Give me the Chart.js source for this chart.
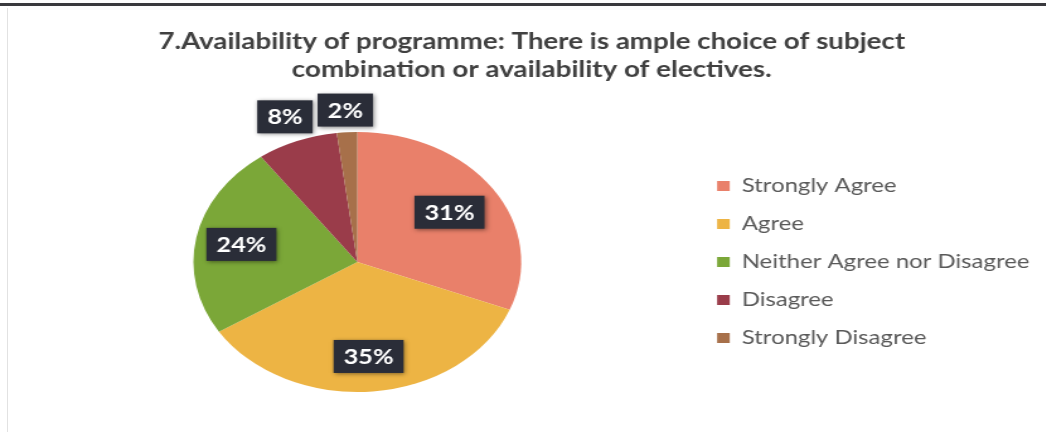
<!DOCTYPE html>
<html>
<head>
<meta charset="utf-8">
<script src="https://cdn.jsdelivr.net/npm/chart.js@4/dist/chart.umd.min.js"></script>
<style>
  html, body { margin: 0; padding: 0; background: #fff; overflow: hidden; }
  #page { position: relative; width: 1046px; height: 432px; background: #fff; }
  #topline { position: absolute; left: 0; top: 3px; width: 1046px; height: 3px; background: #3a3a3e; }
  #leftline { position: absolute; left: 7px; top: 8px; width: 1px; height: 424px; background: #e2e2e2; }
  #wrap { position: absolute; left: 0; top: 0; width: 830px; height: 432px; transform: scaleX(1.26); transform-origin: 0 0; }
</style>
</head>
<body>
<div id="page">
  <div id="topline"></div>
  <div id="leftline"></div>
  <div id="wrap"><canvas id="c" width="830" height="432"></canvas></div>
</div>
<script>
const titleLines = ["7.Availability of programme: There is ample choice of subject", "combination or availability of electives."];
const categories = ["Strongly Agree", "Agree", "Neither Agree nor Disagree", "Disagree", "Strongly Disagree"];
const percentages = [31, 35, 24, 8, 2];
const sliceColors = ["#E9806A", "#EDB444", "#7BA738", "#9A3C4A", "#A7704A"];
const labelRadiusFactors = [0.68, 0.73, 0.72, 1.2, 1.17];

const boxLabels = {
  id: 'boxLabels',
  afterDatasetsDraw(chart) {
    const ctx = chart.ctx;
    const meta = chart.getDatasetMeta(0);
    const data = chart.data.datasets[0].data;
    ctx.save();
    ctx.font = 'bold 20px Lato, "Liberation Sans", sans-serif';
    ctx.textAlign = 'center';
    ctx.textBaseline = 'middle';
    meta.data.forEach((arc, i) => {
      const p = arc.getProps(['x', 'y', 'startAngle', 'endAngle', 'outerRadius'], true);
      const mid = (p.startAngle + p.endAngle) / 2;
      const r = p.outerRadius * labelRadiusFactors[i];
      const cx = p.x + Math.cos(mid) * r;
      const cy = p.y + Math.sin(mid) * r;
      const txt = data[i] + '%';
      const w = ctx.measureText(txt).width + 16;
      const h = 33;
      ctx.shadowColor = 'rgba(0,0,0,0.45)';
      ctx.shadowBlur = 4;
      ctx.shadowOffsetX = 1;
      ctx.shadowOffsetY = 1;
      ctx.fillStyle = '#2A2D38';
      ctx.fillRect(cx - w / 2, cy - h / 2, w, h);
      ctx.shadowColor = 'transparent';
      ctx.fillStyle = '#FFFFFF';
      ctx.fillText(txt, cx, cy + 1);
    });
    ctx.restore();
  }
};

new Chart(document.getElementById('c'), {
  type: 'pie',
  data: {
    labels: categories,
    datasets: [{
      data: percentages,
      backgroundColor: sliceColors,
      borderWidth: 0
    }]
  },
  options: {
    responsive: false,
    animation: false,
    devicePixelRatio: 1,
    layout: { padding: { left: 17, right: 3, top: 0, bottom: 40 } },
    plugins: {
      title: {
        display: true,
        text: titleLines,
        color: '#404040',
        font: { family: 'Lato, "Liberation Sans", sans-serif', size: 22, weight: 'bold', lineHeight: 1.27 },
        padding: { top: 28, bottom: 48 }
      },
      legend: {
        position: 'right',
        fullSize: false,
        labels: {
          color: '#595959',
          boxWidth: 10,
          boxHeight: 10,
          padding: 19,
          font: { family: 'Lato, "Liberation Sans", sans-serif', size: 19 }
        }
      },
      tooltip: { enabled: false }
    }
  },
  plugins: [boxLabels]
});
</script>
</body>
</html>
